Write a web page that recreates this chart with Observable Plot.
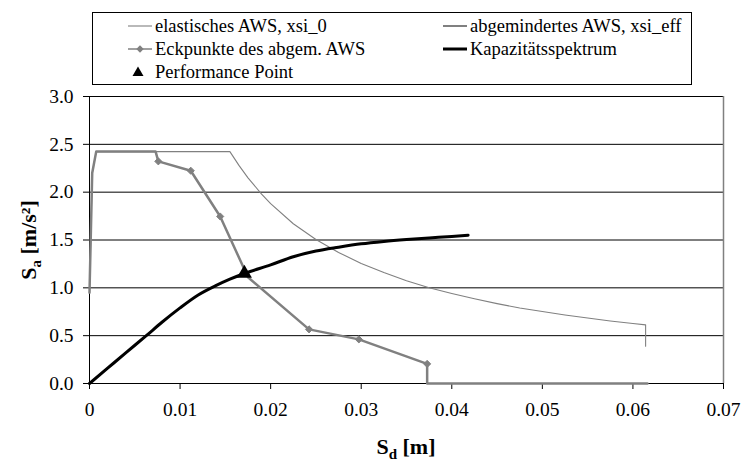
<!DOCTYPE html>
<html><head><meta charset="utf-8">
<script src="https://cdn.jsdelivr.net/npm/d3@7"></script>
<script src="https://cdn.jsdelivr.net/npm/@observablehq/plot@0.6"></script>
<style>
body{margin:0;background:#fff;}
#wrap{position:relative;width:742px;height:462px;font-family:'Liberation Serif', serif;color:#000;}
#legend{position:relative;width:742px;height:86px;z-index:2;}
#lbox{position:absolute;left:92px;top:12px;width:600px;height:73px;border:1px solid #000;box-sizing:border-box;}
.item{position:absolute;font-family:'Liberation Serif', serif;font-size:18.5px;height:20px;line-height:20px;white-space:nowrap;display:flex;align-items:center;}
.item svg{display:block;margin-right:3px;}
#chart svg{display:block;}
#chart svg text{font-family:'Liberation Serif', serif;}
</style></head>
<body>
<div id="wrap">
  <div id="legend"><div id="lbox"></div></div>
  <div id="chart"></div>
</div>
<script>
// ---- data ----
const seriesNames = ["elastisches AWS, xsi_0", "abgemindertes AWS, xsi_eff", "Eckpunkte des abgem. AWS", "Kapazitätsspektrum", "Performance Point"];

const elasticSd = [0, 0.0003, 0.00074, 0.0155, 0.0165, 0.0175, 0.019, 0.02, 0.0225, 0.025, 0.0275, 0.03, 0.0325, 0.035, 0.0375, 0.04, 0.0425, 0.045, 0.0475, 0.05, 0.0525, 0.055, 0.0575, 0.06, 0.0614, 0.0614];
const elasticSa = [0.95, 2.2, 2.424, 2.424, 2.28, 2.15, 1.98, 1.88, 1.67, 1.505, 1.37, 1.255, 1.16, 1.075, 1.0, 0.94, 0.885, 0.835, 0.79, 0.752, 0.716, 0.684, 0.654, 0.627, 0.613, 0.39];

const reducedSd = [0, 0.0003, 0.00074, 0.0073, 0.0076, 0.01118, 0.01443, 0.0175, 0.02424, 0.02974, 0.03728, 0.03728, 0.0616];
const reducedSa = [0.95, 2.2, 2.424, 2.424, 2.322, 2.224, 1.746, 1.11, 0.566, 0.461, 0.205, 0, 0];

const cornerSd = [0.0076, 0.01118, 0.01443, 0.02424, 0.02974, 0.03728];
const cornerSa = [2.322, 2.224, 1.746, 0.566, 0.461, 0.205];

const capacitySd = [0, 0.002, 0.004, 0.00627, 0.008, 0.01, 0.012, 0.014, 0.0155, 0.0171, 0.02, 0.0225, 0.025, 0.0275, 0.03, 0.0325, 0.035, 0.0375, 0.04, 0.0418];
const capacitySa = [0, 0.16, 0.32, 0.5, 0.64, 0.79, 0.925, 1.025, 1.09, 1.15, 1.24, 1.325, 1.385, 1.425, 1.46, 1.485, 1.505, 1.522, 1.537, 1.55];

const perfSd = [0.0171];
const perfSa = [1.15];

const xTicks = [0, 0.01, 0.02, 0.03, 0.04, 0.05, 0.06, 0.07];
const xTickLabels = ["0", "0.01", "0.02", "0.03", "0.04", "0.05", "0.06", "0.07"];
const yTicks = [0, 0.5, 1.0, 1.5, 2.0, 2.5, 3.0];
const yTickLabels = ["0.0", "0.5", "1.0", "1.5", "2.0", "2.5", "3.0"];

// ---- build tables ----
const zip = (xs, ys) => xs.map((x, i) => ({Sd: x, Sa: ys[i]}));
const elastic = zip(elasticSd, elasticSa);
const reduced = zip(reducedSd, reducedSa);
const corners = zip(cornerSd, cornerSa);
const capacity = zip(capacitySd, capacitySa);
const perf = zip(perfSd, perfSa);

const GRAY = "#808080";
const SERIF = "Liberation Serif";

const plot = Plot.plot({
  width: 742,
  height: 376,
  marginTop: 10,
  marginLeft: 89,
  marginRight: 19,
  marginBottom: 79,
  style: {fontFamily: SERIF, fontSize: "19.5px", background: "transparent", color: "#000"},
  x: {domain: [0, 0.07]},
  y: {domain: [0, 3]},
  marks: [
    Plot.ruleY(yTicks.slice(1), {stroke: "#000", strokeWidth: 1}),
    Plot.ruleX([0.07], {stroke: GRAY, strokeWidth: 1.5}),
    Plot.ruleX([0], {stroke: "#000", strokeWidth: 1}),
    Plot.ruleY([0], {stroke: "#000", strokeWidth: 1}),
    Plot.axisX({ticks: xTicks, tickFormat: (d) => xTickLabels[xTicks.indexOf(d)], tickSize: 6, tickPadding: 13, label: null, stroke: "#000", fontFamily: SERIF, fontSize: 19.5}),
    Plot.axisY({ticks: yTicks, tickFormat: (d) => yTickLabels[yTicks.indexOf(d)], tickSize: 6, tickPadding: 10, label: null, stroke: "#000", fontFamily: SERIF, fontSize: 19.5}),
    Plot.line(elastic, {x: "Sd", y: "Sa", stroke: GRAY, strokeWidth: 1.1}),
    Plot.line(reduced, {x: "Sd", y: "Sa", stroke: GRAY, strokeWidth: 2.5}),
    Plot.line(corners, {x: "Sd", y: "Sa", stroke: GRAY, strokeWidth: 2.5, strokeOpacity: 0}),
    Plot.dot(corners, {x: "Sd", y: "Sa", symbol: "diamond2", r: 3.2, fill: GRAY, stroke: GRAY, strokeWidth: 1}),
    Plot.line(capacity, {x: "Sd", y: "Sa", stroke: "#000", strokeWidth: 3, curve: "monotone-x"}),
    Plot.dot(perf, {x: "Sd", y: "Sa", symbol: "triangle", r: 5.6, fill: "#000", stroke: "none"})
  ]
});
document.getElementById("chart").appendChild(plot);

// ---- axis titles (with subscripts) ----
const svg = d3.select(plot);
const xt = svg.append("text")
  .attr("x", 406).attr("y", 368)
  .attr("text-anchor", "middle")
  .style("font-family", SERIF)
  .attr("font-weight", "bold").attr("font-size", 22).attr("fill", "#000");
xt.append("tspan").text("S");
xt.append("tspan").attr("font-size", 15).attr("dy", 5).text("d");
xt.append("tspan").attr("dy", -5).text(" [m]");

const yt = svg.append("text")
  .attr("transform", "translate(36,154) rotate(-90)")
  .attr("text-anchor", "middle")
  .style("font-family", SERIF)
  .attr("font-weight", "bold").attr("font-size", 22).attr("fill", "#000");
yt.append("tspan").text("S");
yt.append("tspan").attr("font-size", 15).attr("dy", 5).text("a");
yt.append("tspan").attr("dy", -5).text(" [m/s²]");

// ---- legend ----
const legend = document.getElementById("legend");
function addItem(left, cy, swatch, label) {
  const d = document.createElement("div");
  d.className = "item";
  d.style.left = left + "px";
  d.style.top = (cy - 10) + "px";
  d.innerHTML = swatch + "<span>" + label + "</span>";
  legend.appendChild(d);
}
const lineSw = (w, c) => `<svg width="24" height="20"><line x1="0" x2="24" y1="10" y2="10" stroke="${c}" stroke-width="${w}"/></svg>`;
const diamondSw = `<svg width="24" height="20"><line x1="0" x2="24" y1="10" y2="10" stroke="${GRAY}" stroke-width="1.5"/><path d="M12,6.3L15.7,10L12,13.7L8.3,10Z" fill="${GRAY}"/></svg>`;
const triSw = `<svg width="24" height="20"><path d="M10,4.5L15.5,14L4.5,14Z" fill="#000"/></svg>`;
addItem(128, 25.5, lineSw(1.1, GRAY), seriesNames[0]);
addItem(443, 25.5, lineSw(2, GRAY), seriesNames[1]);
addItem(128, 48.5, diamondSw, seriesNames[2]);
addItem(443, 48.5, lineSw(3, "#000"), seriesNames[3]);
addItem(128, 71.5, triSw, seriesNames[4]);
</script>
</body></html>
